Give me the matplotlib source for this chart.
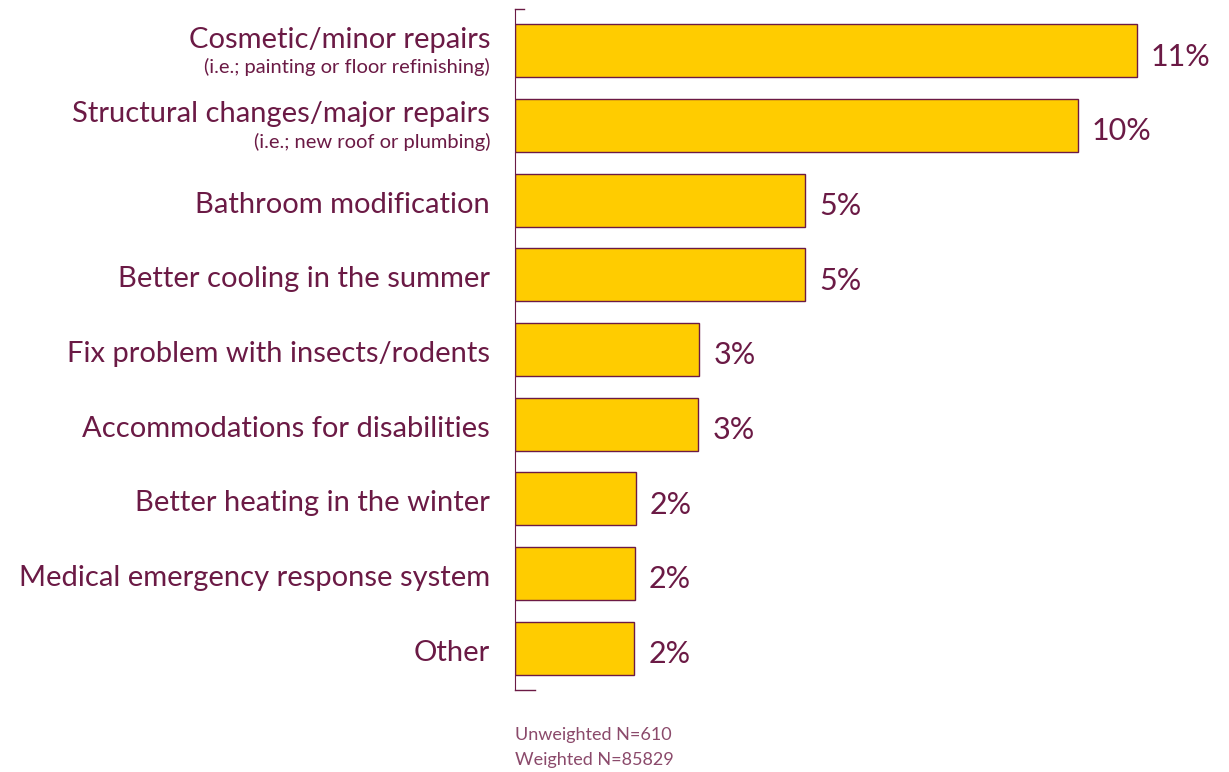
import matplotlib.pyplot as plt

# survey answers, top to bottom
labels = ["Cosmetic/minor repairs", "Structural changes/major repairs",
          "Bathroom modification", "Better cooling in the summer",
          "Fix problem with insects/rodents", "Accommodations for disabilities",
          "Better heating in the winter", "Medical emergency response system",
          "Other"]
sublabels = ["(i.e.; painting or floor refinishing)", "(i.e.; new roof or plumbing)",
             "", "", "", "", "", "", ""]
pct = [11.0, 9.96, 5.13, 5.13, 3.26, 3.24, 2.14, 2.12, 2.11]
notes = ["Unweighted N=610", "Weighted N=85829"]

maroon = "#6B1A45"
gold = "#FFCC00"

plt.rcParams['font.family'] = ['Lato', 'DejaVu Sans']

fig = plt.figure(figsize=(12.29, 7.72), dpi=100)
ax = fig.add_axes([515 / 1229, 1 - 690 / 772, 714 / 1229, 681 / 772])

y = list(range(len(pct)))
ax.barh(y, pct, height=0.71, color=gold, edgecolor=maroon, linewidth=1)
ax.set_ylim(len(pct) - 1 + 0.56, -0.56)
ax.set_xlim(0, 714 / 56.5)

for i, v in enumerate(pct):
    ax.text(v + 0.25, i + 0.08, f"{round(v)}%", va="center", ha="left",
            fontsize=22, color=maroon)
    if sublabels[i]:
        ax.text(-0.44, i - 0.15, labels[i], va="center", ha="right",
                fontsize=21, color=maroon, clip_on=False)
        ax.text(-0.44, i + 0.22, sublabels[i], va="center", ha="right",
                fontsize=14.5, color=maroon, clip_on=False)
    else:
        ax.text(-0.44, i + 0.06, labels[i], va="center", ha="right",
                fontsize=21, color=maroon, clip_on=False)

for s in ["top", "right", "bottom"]:
    ax.spines[s].set_visible(False)
ax.spines["left"].set_color(maroon)
ax.set_xticks([])
ax.set_yticks([])

# small end caps on the axis line
ax.plot([0, 0.013], [1, 1], transform=ax.transAxes, color=maroon, lw=1, clip_on=False)
ax.plot([0, 0.028], [0, 0], transform=ax.transAxes, color=maroon, lw=1, clip_on=False)

fig.text(515 / 1229, 1 - 735 / 772, notes[0], fontsize=13, color="#8B4A6B",
         ha="left", va="center")
fig.text(515 / 1229, 1 - 760 / 772, notes[1], fontsize=13, color="#8B4A6B",
         ha="left", va="center")

fig.savefig("out.png", dpi=100)
